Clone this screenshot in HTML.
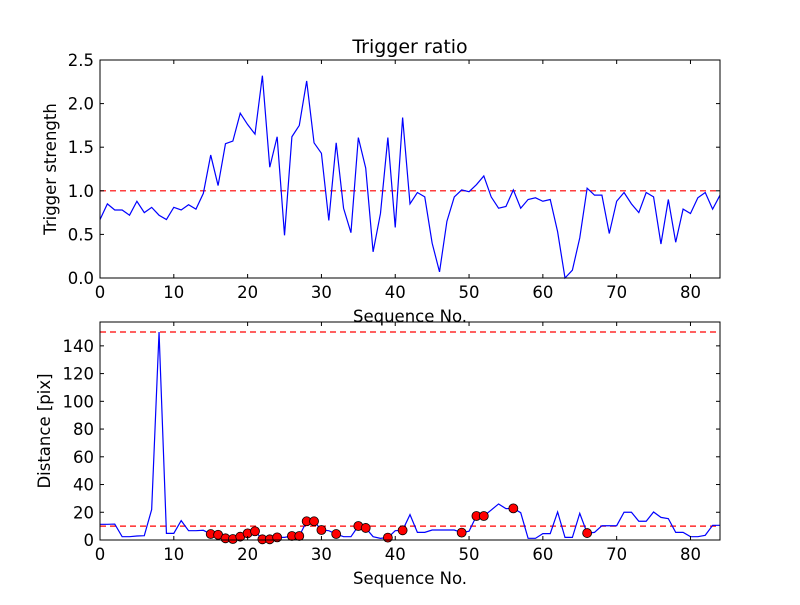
<!DOCTYPE html>
<html><head><meta charset="utf-8"><style>
body{margin:0;background:#fff;}
svg text{font-family:"DejaVu Sans","Liberation Sans",sans-serif;font-size:16.5px;fill:#000;}
svg text.title{font-size:19px;}
</style></head><body>
<svg id="fig" width="800" height="600" xmlns="http://www.w3.org/2000/svg"></svg>
<script>
const seq = Array.from({length:85},(_,i)=>i);
const ratio = [0.67,0.85,0.78,0.78,0.72,0.88,0.75,0.81,0.72,0.67,0.81,0.78,0.84,0.79,0.97,1.41,1.06,1.54,1.57,1.89,1.76,1.65,2.32,1.27,1.62,0.49,1.62,1.75,2.26,1.55,1.43,0.66,1.55,0.80,0.52,1.61,1.26,0.30,0.74,1.61,0.58,1.84,0.85,0.98,0.93,0.40,0.07,0.65,0.93,1.01,0.99,1.07,1.17,0.93,0.80,0.82,1.01,0.80,0.90,0.92,0.88,0.90,0.53,0.0,0.09,0.46,1.03,0.95,0.95,0.51,0.88,0.98,0.85,0.75,0.98,0.93,0.39,0.90,0.41,0.79,0.74,0.92,0.98,0.79,0.95];
const dist = [11.3,11.3,11.5,2.4,2.4,2.9,3.1,22,150,4.8,4.8,14,6.7,6.7,7,4.3,3.8,1.2,0.7,2.4,4.8,6.3,0.5,0.5,1.9,1.9,2.9,2.9,13.5,13.5,7.2,6.7,4.3,2.4,2.4,10.1,8.7,2.4,1.2,1.7,6.7,7,18.3,5.5,5.5,7.2,7.2,7.2,7.2,5.3,6.3,17.3,17.3,21.6,26,22.6,22.8,19.7,1.2,1.2,4.6,4.6,20.2,1.9,1.9,19.2,5,5.5,10.3,10.3,10.3,20,20,13.5,13.5,20.2,16.3,15.4,5.5,5.5,2.4,2.4,3.4,10.6,10.6];
const flagged = [15,16,17,18,19,20,21,22,23,24,26,27,28,29,30,32,35,36,39,41,49,51,52,56,66];
const xTicks = [0,10,20,30,40,50,60,70,80];
const yTicksTop = ["0.0","0.5","1.0","1.5","2.0","2.5"];
const yTicksBot = [0,20,40,60,80,100,120,140];
const thrTop = 1.0, thrBotLo = 10, thrBotHi = 150;

const NS="http://www.w3.org/2000/svg";
const svg=document.getElementById('fig');
function mk(tag,attrs,parent){const e=document.createElementNS(NS,tag);for(const k in attrs)e.setAttribute(k,attrs[k]);(parent||svg).appendChild(e);return e;}
const L=100,R=720;
const xs=v=>L+(v/84)*(R-L);
function axes(top,bot,ymax,name){
  const g=mk('g',{});
  
  
  return {g,ys:v=>bot-(v/ymax)*(bot-top),top,bot};
}
function drawAxes(A,yt,yfmt,xlabel,ylabel,ylx){
  const {g,ys,top,bot}=A;
  mk('rect',{x:L,y:top,width:R-L,height:bot-top,fill:'none',stroke:'#000','stroke-width':1},g);
  xTicks.forEach(t=>{const x=xs(t);
    mk('line',{x1:x,x2:x,y1:bot,y2:bot-4,stroke:'#000'},g);
    mk('line',{x1:x,x2:x,y1:top,y2:top+4,stroke:'#000'},g);
    const tx=mk('text',{x:x,y:bot+20,'text-anchor':'middle'},g);tx.textContent=t;
    
    
  });
  yt.forEach(t=>{const v=parseFloat(t);const y=ys(v);
    mk('line',{x1:L,x2:L+4,y1:y,y2:y,stroke:'#000'},g);
    mk('line',{x1:R,x2:R-4,y1:y,y2:y,stroke:'#000'},g);
    const tx=mk('text',{x:L-6,y:y+6,'text-anchor':'end'},g);tx.textContent=yfmt(t);
    
    
  });
  const xl=mk('text',{x:410,y:bot+44,'text-anchor':'middle'},g);xl.textContent=xlabel;
  
  
  const cy=(top+bot)/2;
  const yl=mk('text',{x:ylx,y:cy,'text-anchor':'middle',transform:`rotate(-90 ${ylx} ${cy})`},g);yl.textContent=ylabel;
  
  
}
function hline(A,v,name){const l=mk('line',{x1:L,x2:R,y1:A.ys(v),y2:A.ys(v),stroke:'#f00','stroke-width':1.2,'stroke-dasharray':'6,4'},A.g);
  
  }
function series(A,vals,name){const p=mk('polyline',{points:vals.map((v,i)=>xs(seq[i])+','+A.ys(v)).join(' '),fill:'none',stroke:'#00f','stroke-width':1.2},A.g);
  
  }

const ti=mk('text',{x:410,y:53,'text-anchor':'middle','class':'title'});ti.textContent='Trigger ratio';



const A1=axes(60,278,2.5,'top-axes');
hline(A1,thrTop,'threshold-line');
series(A1,ratio,'trigger-strength-line');
drawAxes(A1,yTicksTop,t=>t,'Sequence No.','Trigger strength',56);

const A2=axes(322,540,157.2,'bottom-axes');
hline(A2,thrBotLo,'lower-threshold-line');
hline(A2,thrBotHi,'upper-threshold-line');
series(A2,dist,'distance-line');
flagged.forEach(i=>{const c=mk('circle',{cx:xs(seq[i]),cy:A2.ys(dist[i]),r:4.5,fill:'#f00',stroke:'#000','stroke-width':0.8},A2.g);
  
  });
drawAxes(A2,yTicksBot.map(String),t=>t,'Sequence No.','Distance [pix]',50);
</script>
</body></html>
